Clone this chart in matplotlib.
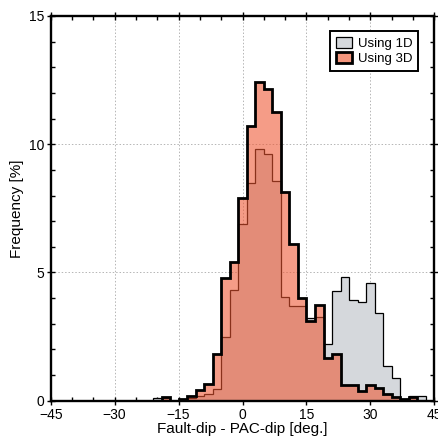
import numpy as np
import matplotlib
matplotlib.use('Agg')
import matplotlib.pyplot as plt
from matplotlib.patches import Patch

plt.rcParams['font.family'] = ['Liberation Sans', 'DejaVu Sans']

# 2 degree bins, edges on odd numbers
edges = np.arange(-45, 46, 2)

# frequency [%] per bin (bin centres -44 ... 44)
freq_1d = [0, 0, 0, 0, 0, 0, 0, 0, 0, 0, 0, 0,
           0.12, 0.12, 0, 0.03, 0.1, 0.2, 0.25, 0.45,
           2.5, 4.32, 6.88, 8.47, 9.8, 9.61, 8.58, 4.06,
           3.71, 3.7, 3.22, 3.28, 2.2, 4.28, 4.84, 3.94,
           3.83, 4.6, 3.41, 1.34, 0.9, 0.08, 0.2, 0.2, 0]
freq_3d = [0, 0, 0, 0, 0, 0, 0, 0, 0, 0, 0, 0,
           0, 0.16, 0, 0.05, 0.2, 0.4, 0.66, 1.81,
           4.77, 5.42, 7.91, 10.72, 12.44, 12.14, 11.27, 8.15,
           6.1, 4.02, 3.1, 3.75, 1.65, 1.81, 0.63, 0.61,
           0.37, 0.63, 0.5, 0.26, 0.13, 0.06, 0.14, 0, 0]

col_1d = '#d5d8dc'
col_3d = '#ee5530'
alpha_3d = 0.58

fig = plt.figure(figsize=(4.38, 4.37), dpi=100)
ax = fig.add_axes([0.1158, 0.0831, 0.8758, 0.8803])

# 1D underneath
ax.stairs(freq_1d, edges, fill=True, color=col_1d, zorder=2)
ax.stairs(freq_1d, edges, fill=False, color='black', lw=0.9, zorder=3)
# 3D on top, semi transparent
ax.stairs(freq_3d, edges, fill=True, color=col_3d, alpha=alpha_3d, lw=0, zorder=4)
ax.stairs(freq_3d, edges, fill=False, color='black', lw=2.0, zorder=5)

ax.set_xlim(-45, 45)
ax.set_ylim(0, 15)
ax.set_xticks(np.arange(-45, 46, 15))
ax.set_xticks(np.arange(-45, 46, 5), minor=True)
ax.set_yticks([0, 5, 10, 15])
ax.set_yticks(np.arange(0, 16, 1), minor=True)

ax.grid(True, which='major', color='#b5b5b5', ls=(0, (1.5, 2)), lw=0.7, zorder=1)
ax.set_axisbelow(True)

ax.tick_params(which='major', direction='inout', length=6, width=1.0,
               top=True, right=True, labelsize=10, pad=1.5)
ax.tick_params(axis='x', which='major', pad=2.5)
ax.tick_params(which='minor', direction='in', length=3, width=1.0,
               top=True, right=True)
for s in ax.spines.values():
    s.set_linewidth(1.7)
    s.set_zorder(6)

ax.set_xlabel('Fault-dip - PAC-dip [deg.]', fontsize=11, labelpad=0)
ax.set_ylabel('Frequency [%]', fontsize=11, labelpad=4)

handles = [Patch(facecolor=col_1d, edgecolor='black', lw=0.9),
           Patch(facecolor='#f5967d', edgecolor='black', lw=2.0)]
leg = ax.legend(handles, ['Using 1D', 'Using 3D'], loc='upper right',
                bbox_to_anchor=(0.958, 0.96), fontsize=9.5, fancybox=False,
                framealpha=1, edgecolor='black', handlelength=1.2,
                handleheight=0.9, handletextpad=0.45, borderpad=0.45,
                labelspacing=0.1, borderaxespad=0)
leg.get_frame().set_linewidth(1.4)
leg.set_zorder(7)

fig.savefig('out.png', dpi=100)
